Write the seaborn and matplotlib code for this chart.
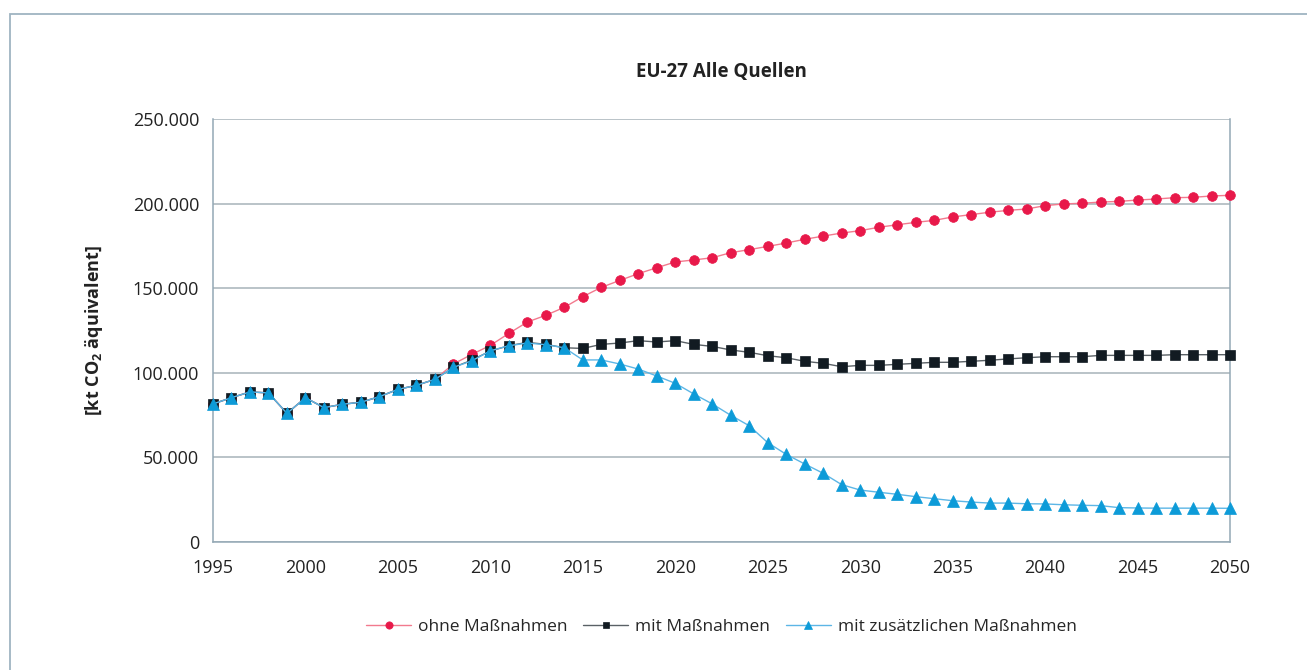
import numpy as np
import pandas as pd
import matplotlib
matplotlib.use("Agg")
import matplotlib.pyplot as plt
import seaborn as sns
from matplotlib.ticker import FuncFormatter
from matplotlib.patches import Rectangle

years = list(range(1995, 2051))

ohne = [81.6, 85.3, 88.7, 88.1, 76.0, 85.3, 79.4, 81.4, 82.6, 85.9,
        90.2, 92.6, 96.1, 105.2, 110.9, 116.2, 123.3, 130.0, 134.0, 138.7,
        145.0, 150.5, 154.6, 158.6, 162.1, 165.5, 166.7, 168.0, 171.0, 172.8,
        174.7, 176.7, 178.9, 180.8, 182.6, 184.0, 186.0, 187.5, 188.9, 190.1,
        192.1, 193.5, 194.9, 196.0, 196.8, 198.8, 199.8, 200.2, 200.9, 201.3,
        202.1, 202.7, 203.5, 203.7, 204.5, 204.9]

mit = [81.6, 85.3, 88.7, 88.1, 76.0, 85.3, 79.4, 81.4, 82.6, 85.9,
       90.2, 92.6, 96.1, 103.2, 107.5, 112.9, 116.0, 118.0, 116.8, 114.8,
       114.4, 116.8, 117.6, 119.0, 118.2, 119.0, 116.8, 115.6, 113.5, 112.1,
       110.1, 108.9, 106.8, 105.6, 103.6, 104.4, 104.4, 105.0, 105.6, 106.2,
       106.2, 106.8, 107.4, 108.2, 108.9, 109.5, 109.5, 109.5, 110.3, 110.3,
       110.3, 110.3, 110.7, 110.7, 110.7, 110.7]

zusatz = [81.6, 85.3, 88.7, 88.1, 76.0, 85.3, 79.4, 81.4, 82.6, 85.9,
          90.2, 92.6, 96.1, 103.2, 107.1, 113.0, 116.0, 117.6, 116.6, 114.8,
          107.6, 107.6, 105.2, 102.2, 98.1, 93.8, 87.5, 81.6, 74.9, 68.7,
          58.7, 51.8, 46.1, 40.6, 33.9, 30.7, 29.4, 28.2, 26.8, 25.6,
          24.4, 23.6, 23.0, 23.0, 22.6, 22.5, 22.0, 21.7, 21.5, 20.3,
          20.1, 20.0, 20.0, 20.0, 20.0, 19.9]

series_names = ["ohne Maßnahmen", "mit Maßnahmen", "mit zusätzlichen Maßnahmen"]
title = "EU-27 Alle Quellen"
ylabel = "[kt CO$_\\mathbf{2}$ äquivalent]"
yticks = [0, 50000, 100000, 150000, 200000, 250000]
xticks = list(range(1995, 2051, 5))

df = pd.DataFrame({
    "Jahr": years * 3,
    "Wert": [v * 1000 for v in ohne + mit + zusatz],
    "Serie": [series_names[0]] * len(years) + [series_names[1]] * len(years) + [series_names[2]] * len(years),
})

sns.set_theme(style="white")
plt.rcParams["font.family"] = ["Open Sans", "DejaVu Sans"]
plt.rcParams["mathtext.fontset"] = "custom"
plt.rcParams["mathtext.rm"] = "Open Sans"
plt.rcParams["mathtext.bf"] = "Open Sans:bold"

fig = plt.figure(figsize=(13.07, 6.70), dpi=100)
ax = fig.add_axes([213 / 1307, 1 - 542 / 670, (1230 - 213) / 1307, (542 - 119) / 670])

styles = {
    series_names[0]: dict(line="#f27a8e", mk="#e8194a", marker="o", ms=7),
    series_names[1]: dict(line="#5a6166", mk="#121b22", marker="s", ms=6.5),
    series_names[2]: dict(line="#5cb6e6", mk="#0d9bd8", marker="^", ms=8),
}

for name in series_names:
    st = styles[name]
    sns.lineplot(data=df[df["Serie"] == name], x="Jahr", y="Wert", ax=ax,
                 color=st["line"], marker=st["marker"], markersize=st["ms"],
                 markerfacecolor=st["mk"], markeredgecolor=st["mk"],
                 markeredgewidth=0.5, linewidth=1.0, label=name, clip_on=False,
                 zorder=3)

ax.set_xlim(1995, 2050)
ax.set_ylim(0, 250000)
ax.set_xticks(xticks)
ax.set_yticks(yticks)
ax.yaxis.set_major_formatter(FuncFormatter(lambda v, p: f"{int(v):,}".replace(",", ".")))
ax.grid(axis="y", color="#a7b3b9", linewidth=1.1, zorder=0)
ax.grid(axis="x", visible=False)
gray = "#93a8b5"
for s in ["left", "bottom", "right"]:
    ax.spines[s].set_visible(True)
    ax.spines[s].set_color(gray)
    ax.spines[s].set_linewidth(1.1)
ax.spines["top"].set_visible(False)
ax.tick_params(axis="both", which="major", length=6, width=1.0, color=gray,
               labelsize=13, labelcolor="#222222", direction="out", pad=4)
ax.tick_params(axis="x", pad=6)
ax.set_xlabel("")
ax.set_ylabel(ylabel, fontsize=13, fontweight="bold", color="#222222", labelpad=20)
fig.text(721 / 1307, 1 - 72 / 670, title, ha="center", va="center",
         fontsize=13.5, fontweight="bold", color="#222222")

leg = ax.legend(loc="center", bbox_to_anchor=(0.5, -0.2), ncol=3, frameon=False,
                fontsize=12.5, handlelength=2.6, columnspacing=0.9, handletextpad=0.4,
                markerscale=0.75)

fig.patches.append(Rectangle((10 / 1307, -0.1), 1.2, 1 - 14 / 670 + 0.1,
                             transform=fig.transFigure, fill=False,
                             edgecolor="#9fb4c1", linewidth=1.3))

fig.savefig("out.png", dpi=100, facecolor="white")
